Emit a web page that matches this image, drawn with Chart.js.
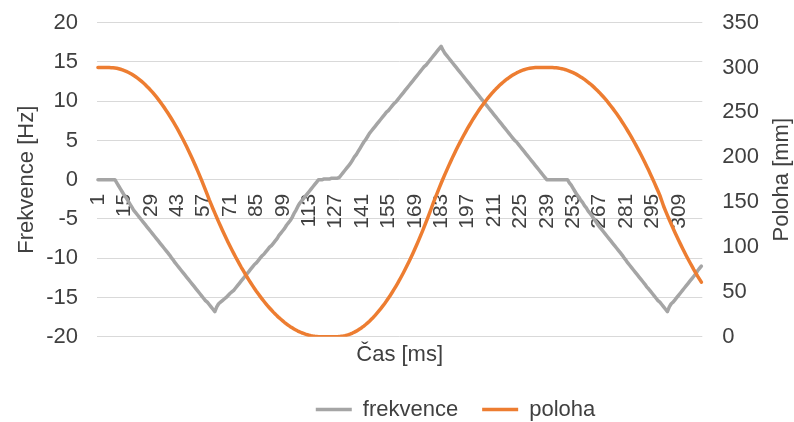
<!DOCTYPE html>
<html lang="cs">
<head>
<meta charset="utf-8">
<title>Frekvence a poloha</title>
<script src="https://cdn.jsdelivr.net/npm/chart.js@4.4.1/dist/chart.umd.min.js"></script>
<style>
  html, body { margin: 0; padding: 0; background: #ffffff; }
  #wrap { position: relative; width: 794px; height: 422px; }
</style>
</head>
<body>
<div id="wrap"><canvas id="graf"></canvas></div>
<script>
// Čas [ms] – one sample per millisecond, 1 … 321
const casLabels = [];
for (let t = 1; t <= 321; t++) casLabels.push(String(t));
const labelStep = 14;

// frekvence [Hz]
const frekvence = [
  0,0,0,0,0,0,0,0,0,0,
  -0.4,-0.8,-1.2,-1.6,-2.0,-2.3,-2.7,-3.1,-3.5,-3.9,
  -4.2,-4.5,-4.8,-5.1,-5.4,-5.7,-6.0,-6.3,-6.6,-6.9,
  -7.2,-7.5,-7.8,-8.1,-8.4,-8.7,-9.0,-9.3,-9.6,-9.95,
  -10.25,-10.6,-10.9,-11.2,-11.5,-11.8,-12.1,-12.4,-12.7,-13.0,
  -13.3,-13.6,-13.9,-14.2,-14.5,-14.8,-15.1,-15.4,-15.6,-15.9,
  -16.2,-16.5,-16.8,-16.2,-15.8,-15.6,-15.4,-15.2,-15.0,-14.75,
  -14.5,-14.3,-14.1,-13.8,-13.5,-13.2,-12.9,-12.6,-12.3,-12.0,
  -11.7,-11.4,-11.1,-10.8,-10.6,-10.3,-10.0,-9.7,-9.5,-9.2,
  -8.9,-8.6,-8.4,-8.1,-7.8,-7.5,-7.1,-6.8,-6.5,-6.2,
  -5.8,-5.5,-5.2,-4.8,-4.3,-3.9,-3.4,-3.0,-2.7,-2.4,
  -2.1,-1.8,-1.5,-1.2,-0.9,-0.6,-0.3,0,0,0,
  0.1,0.1,0.1,0.1,0.2,0.2,0.2,0.2,0.3,0.6,
  0.9,1.2,1.5,1.8,2.1,2.5,2.9,3.2,3.6,4.0,
  4.4,4.8,5.1,5.5,5.9,6.2,6.5,6.8,7.1,7.4,
  7.7,8.0,8.3,8.6,8.8,9.1,9.4,9.7,9.9,10.2,
  10.5,10.8,11.1,11.4,11.7,12.0,12.3,12.6,12.9,13.2,
  13.5,13.8,14.1,14.4,14.6,14.9,15.2,15.5,15.8,16.1,
  16.4,16.7,17.0,16.5,16.1,15.8,15.5,15.2,14.9,14.6,
  14.3,14.0,13.7,13.4,13.1,12.8,12.5,12.2,11.9,11.6,
  11.3,11.0,10.7,10.4,10.1,9.8,9.5,9.2,8.9,8.6,
  8.3,8.0,7.7,7.4,7.1,6.8,6.5,6.2,5.9,5.6,
  5.3,5.0,4.8,4.5,4.2,3.9,3.6,3.3,3.0,2.7,
  2.4,2.1,1.8,1.5,1.2,0.9,0.6,0.3,0,0,
  0,0,0,0,0,0,0,0,0,0,
  -0.4,-0.7,-1.1,-1.5,-1.9,-2.2,-2.6,-2.9,-3.3,-3.6,
  -4.0,-4.3,-4.6,-5.0,-5.3,-5.7,-6.0,-6.3,-6.6,-6.9,
  -7.2,-7.5,-7.8,-8.1,-8.4,-8.7,-9.0,-9.3,-9.6,-9.95,
  -10.25,-10.6,-10.9,-11.2,-11.5,-11.8,-12.1,-12.4,-12.7,-13.0,
  -13.3,-13.65,-13.9,-14.2,-14.5,-14.8,-15.1,-15.4,-15.6,-15.9,
  -16.2,-16.5,-16.8,-16.2,-15.8,-15.6,-15.3,-15.0,-14.7,-14.4,
  -14.1,-13.8,-13.5,-13.2,-12.9,-12.6,-12.3,-12.0,-11.6,-11.3,-11.0
];

// poloha [mm]
const poloha = [
  300,300,300,300,300,300,300,299.9,299.8,299.5,
  299.2,298.7,298.1,297.4,296.6,295.8,294.8,293.7,292.5,291.1,
  289.7,288.2,286.6,284.9,283.0,281.1,279.0,276.9,274.6,272.3,
  269.8,267.3,264.6,261.8,258.9,255.9,252.8,249.6,246.3,242.9,
  239.4,235.8,232.1,228.3,224.3,220.3,216.2,211.9,207.6,203.1,
  198.6,193.9,189.1,184.3,179.3,174.2,169.0,163.7,158.3,152.8,
  147.7,142.6,137.7,132.8,128.0,123.3,118.7,114.2,109.8,105.4,
  101.1,97.0,92.9,88.9,85.0,81.2,77.4,73.8,70.2,66.8,
  63.4,60.1,56.9,53.8,50.7,47.8,45.0,42.2,39.5,36.9,
  34.4,32.0,29.7,27.4,25.3,23.2,21.2,19.4,17.6,15.8,
  14.2,12.7,11.2,9.9,8.6,7.4,6.3,5.3,4.4,3.6,
  2.8,2.2,1.6,1.1,0.7,0.4,0.2,0.0,0,0,
  0,0,0,0,0,0,0,0,0.1,0.4,
  0.7,1.1,1.7,2.4,3.2,4.1,5.1,6.2,7.5,8.8,
  10.3,11.9,13.6,15.4,17.3,19.4,21.5,23.8,26.2,28.7,
  31.3,34.0,36.8,39.7,42.8,46.0,49.3,52.7,56.2,59.8,
  63.5,67.4,71.3,75.4,79.6,83.9,88.3,92.8,97.5,102.2,
  107.1,112.1,117.2,122.4,127.7,133.1,138.7,144.3,150.1,155.4,
  160.7,165.9,171.0,176.0,180.9,185.7,190.4,195.0,199.6,204.0,
  208.3,212.5,216.6,220.6,224.6,228.4,232.1,235.7,239.2,242.7,
  246.0,249.2,252.3,255.4,258.3,261.1,263.8,266.5,269.0,271.4,
  273.8,276.0,278.1,280.2,282.1,283.9,285.7,287.3,288.8,290.3,
  291.6,292.9,294.0,295.0,296.0,296.8,297.6,298.2,298.8,299.2,
  299.6,299.8,300,300,300,300,300,300,300,300,
  300,300,299.9,299.7,299.5,299.1,298.7,298.2,297.6,296.9,
  296.1,295.2,294.3,293.3,292.1,290.9,289.6,288.3,286.8,285.2,
  283.6,281.9,280.1,278.2,276.2,274.1,272.0,269.7,267.4,265.0,
  262.5,259.9,257.2,254.5,251.6,248.7,245.7,242.6,239.4,236.1,
  232.8,229.3,225.8,222.2,218.4,214.7,210.8,206.8,202.8,198.6,
  194.4,190.1,185.7,181.2,176.6,172.0,167.2,162.4,157.5,151.5,
  145.4,140.3,135.3,130.4,125.6,120.9,116.2,111.7,107.2,102.9,
  98.6,94.4,90.3,86.3,82.4,78.6,74.8,71.2,67.6,64.2,60.8
];

const polohaTitle = 'Poloha [mm]';

const FONT = '"Liberation Sans", Arial, sans-serif';
const TEXT = '#404040';
const GRID = '#d9d9d9';

// nudges the legend row a little to the right of the canvas centre
const legendOffset = {
  id: 'legendOffset',
  afterUpdate(chart) {
    if (chart.legend) {
      chart.legend.left += 53;
      chart.legend.right += 53;
    }
  }
};

// right-hand axis title, written bottom-to-top like the left one
const rightAxisTitle = {
  id: 'rightAxisTitle',
  afterDraw(chart) {
    const s = chart.scales.y1;
    const ctx = chart.ctx;
    ctx.save();
    ctx.translate(s.right - 11, (s.top + s.bottom) / 2);
    ctx.rotate(-Math.PI / 2);
    ctx.textAlign = 'center';
    ctx.textBaseline = 'middle';
    ctx.font = '22px ' + FONT;
    ctx.fillStyle = TEXT;
    ctx.fillText(polohaTitle, 0, 0);
    ctx.restore();
  }
};

// fixed axis widths; keep the tick padding from pushing the plot down
function fixAxis(width) {
  return (scale) => {
    scale.width = width;
    scale.paddingTop = 12;
    scale.paddingBottom = 12;
  };
}

new Chart(document.getElementById('graf'), {
  type: 'line',
  data: {
    labels: casLabels,
    datasets: [
      {
        label: 'frekvence',
        data: frekvence,
        yAxisID: 'y',
        xAxisID: 'x',
        borderColor: '#a5a5a5',
        backgroundColor: '#a5a5a5',
        borderWidth: 3.5,
        pointRadius: 0,
        pointStyle: 'line',
        tension: 0,
        borderJoinStyle: 'round',
        borderCapStyle: 'round',
        order: 1
      },
      {
        label: 'poloha',
        data: poloha,
        yAxisID: 'y1',
        xAxisID: 'x',
        borderColor: '#ed7d31',
        backgroundColor: '#ed7d31',
        borderWidth: 3.5,
        pointRadius: 0,
        pointStyle: 'line',
        tension: 0,
        borderJoinStyle: 'round',
        borderCapStyle: 'round',
        order: 0
      }
    ]
  },
  options: {
    responsive: true,
    maintainAspectRatio: false,
    animation: false,
    events: [],
    layout: { padding: { left: 12, right: 1, top: 22.7, bottom: 0 } },
    plugins: {
      tooltip: { enabled: false },
      legend: {
        position: 'bottom',
        align: 'center',
        maxHeight: 47.5,
        labels: {
          usePointStyle: true,
          pointStyleWidth: 36,
          padding: 24,
          color: TEXT,
          font: { family: FONT, size: 22 },
          sort: (a, b) => a.datasetIndex - b.datasetIndex
        }
      }
    },
    scales: {
      x: {
        type: 'category',
        position: { y: 0 },
        offset: true,
        grid: { display: false, drawTicks: false },
        border: { display: false },
        ticks: {
          autoSkip: false,
          minRotation: 90,
          maxRotation: 90,
          padding: 14,
          color: TEXT,
          font: { family: FONT, size: 21 },
          callback: (v, i) => (i % labelStep === 0 ? casLabels[i] : '')
        }
      },
      x2: {
        type: 'category',
        position: 'bottom',
        offset: true,
        grid: { display: false, drawTicks: false },
        border: { display: false },
        ticks: { display: false },
        title: {
          display: true,
          text: 'Čas [ms]',
          color: TEXT,
          font: { family: FONT, size: 22, lineHeight: 1.2 },
          padding: { top: 5, bottom: 6.4 }
        }
      },
      y: {
        type: 'linear',
        position: 'left',
        min: -20,
        max: 20,
        afterFit: fixAxis(85),
        grid: { color: GRID, lineWidth: 1, drawTicks: false },
        border: { display: false },
        ticks: {
          stepSize: 5,
          padding: 19,
          color: TEXT,
          font: { family: FONT, size: 22 }
        },
        title: {
          display: true,
          text: 'Frekvence [Hz]',
          color: TEXT,
          font: { family: FONT, size: 22, lineHeight: 1 },
          padding: { top: 4, bottom: 8 }
        }
      },
      y1: {
        type: 'linear',
        position: 'right',
        min: 0,
        max: 350,
        afterFit: fixAxis(90.7),
        grid: { display: false, drawTicks: false },
        border: { display: false },
        ticks: {
          stepSize: 50,
          padding: 20,
          color: TEXT,
          font: { family: FONT, size: 22 }
        },
        title: { display: false }
      }
    }
  },
  plugins: [legendOffset, rightAxisTitle]
});
</script>
</body>
</html>
